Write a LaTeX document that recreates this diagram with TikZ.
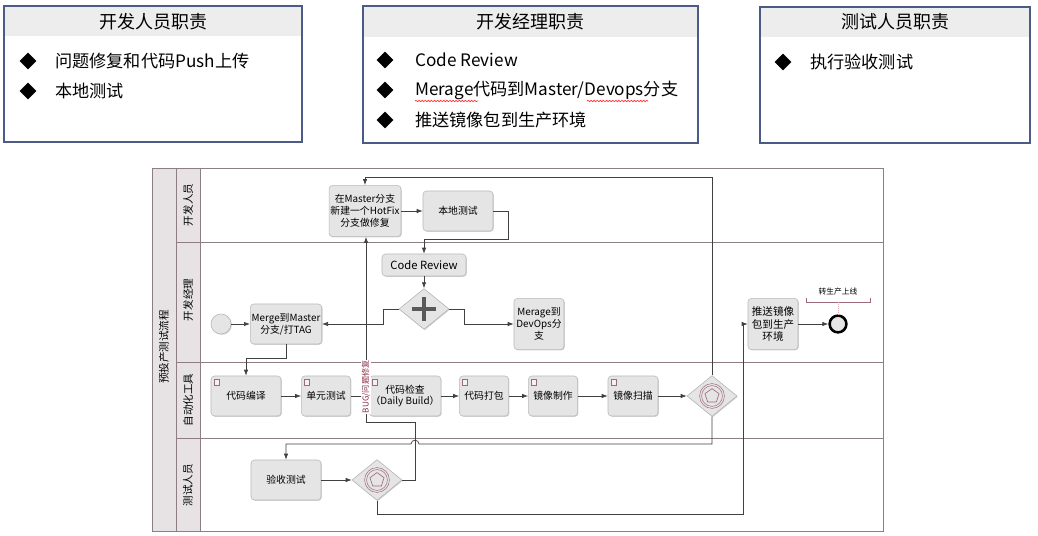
\documentclass[tikz,border=0pt]{standalone}
\usepackage{fontspec}
\setmainfont{Noto Sans CJK SC}
\usetikzlibrary{arrows.meta,shapes.geometric,shadows,decorations.pathmorphing}
\definecolor{dutyblue}{HTML}{4B5A87}
\definecolor{hdrgray}{HTML}{EDEDED}
\definecolor{lanemauve}{HTML}{8E7D84}
\definecolor{lanefill}{HTML}{E7E3E4}
\definecolor{taskgray}{HTML}{E6E5E5}
\definecolor{gatepink}{HTML}{9C6B7A}
\definecolor{bugred}{HTML}{8A3048}

\begin{document}
\begin{tikzpicture}[
            x=0.025cm, y=-0.025cm,
            duty/.style={draw=dutyblue, line width=1.6pt},
            dutytitle/.style={font=\fontsize{12.8}{14}\selectfont},
            dutyitem/.style={anchor=west, inner sep=0pt, font=\fontsize{12.2}{14}\selectfont},
            bulletmark/.style={diamond, fill=black, inner sep=0pt, minimum width=4.2mm, minimum height=4.2mm},
            lane/.style={draw=lanemauve, line width=0.6pt},
            lanetext/.style={rotate=90, font=\fontsize{7.5}{9}\selectfont},
            task/.style={draw=gray!55, fill=taskgray, rounded corners=2.5pt, align=center,
                inner sep=1pt, font=\fontsize{7}{8.5}\selectfont,
                minimum width=1.75cm, minimum height=1cm,
                drop shadow={shadow xshift=0.6pt, shadow yshift=-0.6pt, opacity=0.35}},
            gate/.style={diamond, draw=gray!60, fill=taskgray, inner sep=0pt,
                minimum width=1.25cm, minimum height=1.02cm,
                drop shadow={shadow xshift=0.6pt, shadow yshift=-0.6pt, opacity=0.35}},
            conn/.style={draw=black!75, line width=0.5pt, -{Latex[length=1.5mm,width=1.1mm]}},
            scripticon/.style={draw=gatepink, line width=0.3pt, fill=white!90!gatepink},
            spell/.style={draw=red!80, line width=0.5pt, decorate,
                decoration={snake, amplitude=0.5pt, segment length=2.2pt}}
            ]
            \useasboundingbox (0,0) rectangle (1038,536);

            % duty boxes
            \fill[hdrgray] (4,6) rectangle (302,36);
            \draw[duty] (4,6) rectangle (302,142);
            \node[dutytitle] (devtitle) at (153,22) {开发人员职责};
            \node[bulletmark] (devb1) at (28,61) {};
            \node[dutyitem] (devi1) at (55,61) {问题修复和代码Push上传};
            \node[bulletmark] (devb2) at (28,91) {};
            \node[dutyitem] (devi2) at (55,91) {本地测试};

            \fill[hdrgray] (363,6) rectangle (698,37);
            \draw[duty] (363,6) rectangle (698,143);
            \node[dutytitle] (mgrtitle) at (530,22) {开发经理职责};
            \node[bulletmark] (mgrb1) at (385,60) {};
            \node[dutyitem] (mgri1) at (415,60) {Code Review};
            \node[bulletmark] (mgrb2) at (385,90) {};
            \node[dutyitem] (mgri2) at (415,90) {Merage代码到Master/Devops分支};
            \node[bulletmark] (mgrb3) at (385,120) {};
            \node[dutyitem] (mgri3) at (415,120) {推送镜像包到生产环境};
            \draw[spell] (415,101) -- (478,101);
            \draw[spell] (587,101) -- (648,101);

            \fill[hdrgray] (760,7) rectangle (1030,37);
            \draw[duty] (760,7) rectangle (1030,143);
            \node[dutytitle] (testtitle) at (895,22) {测试人员职责};
            \node[bulletmark] (testb1) at (783,62) {};
            \node[dutyitem] (testi1) at (810,62) {执行验收测试};

            % pool and lanes
            \fill[lanefill] (152,168) rectangle (200,531);
            \draw[lane] (152,168) rectangle (883,531);
            \draw[lane] (176,168) -- (176,531);
            \draw[lane] (200,168) -- (200,531);
            \foreach \y in {242,362,438}
                \draw[lane] (176,\y) -- (883,\y);
            \node[lanetext] (pool) at (164,347) {预投产测试流程};
            \node[lanetext] (ldev) at (188,205) {开发人员};
            \node[lanetext] (lmgr) at (188,300) {开发经理};
            \node[lanetext] (ltool) at (188,400) {自动化工具};
            \node[lanetext] (ltest) at (188,485) {测试人员};

            % tasks
            \node[task, minimum height=1.28cm] (hotfix) at (365,211) {在Master分支\\新建一个HotFix\\分支做修复};
            \node[task] (local) at (458,211) {本地测试};
            \node[task, minimum width=2.1cm, minimum height=0.55cm, font=\fontsize{8}{9}\selectfont] (review) at (424,265) {Code Review};
            \node[gate] (gwp) at (424,309) {};
            \node[circle, draw=gray!60, fill=taskgray, minimum size=0.5cm, inner sep=0pt,
                drop shadow={shadow xshift=0.6pt, shadow yshift=-0.6pt, opacity=0.35}] (start) at (221,324) {};
            \node[task] (merge) at (286,324) {Merge到Master\\分支/打TAG};
            \node[task, minimum width=1.25cm, minimum height=1.28cm] (devops) at (539,324) {Merage到\\DevOps分\\支};
            \node[task, minimum width=1.25cm, minimum height=1.28cm, font=\fontsize{7.5}{9}\selectfont] (push) at (773,324) {推送镜像\\包到生产\\环境};
            \node[circle, draw=black, line width=1.8pt, fill=taskgray, minimum size=0.42cm, inner sep=0pt] (endev) at (838,324) {};
            \node[font=\fontsize{5.5}{7}\selectfont] (golive) at (838,292) {转生产上线};
            \draw[gatepink, line width=0.5pt] (806,298) -- (806,302) -- (870,302) -- (870,298);
            \draw[pink!80!gray, densely dotted] (838,302) -- (endev.north);

            \node[task] (compile) at (246,396) {代码编译};
            \node[task, minimum width=1.23cm] (unit) at (326,396) {单元测试};
            \node[task] (check) at (405,396) {代码检查\\（Daily Build）};
            \node[task, minimum width=1.23cm] (pack) at (484,396) {代码打包};
            \node[task, minimum width=1.23cm] (image) at (553,396) {镜像制作};
            \node[task, minimum width=1.25cm] (scan) at (633,396) {镜像扫描};
            \node[gate] (gwe) at (712,396) {};
            \foreach \n in {compile,unit,check,pack,image,scan}
                \draw[scripticon] ([shift={(3,3)}]\n.north west) rectangle ++(5,6);

            \node[task] (accept) at (286,480) {验收测试};
            \node[gate] (gwt) at (377,480) {};

            % gateway marks
            \draw[line width=2.8pt, black!65] (gwp.center) ++(-12,0) -- ++(24,0);
            \draw[line width=2.8pt, black!65] (gwp.center) ++(0,-12) -- ++(0,24);
            \foreach \g in {gwe,gwt} {
                \draw[gatepink, line width=0.35pt] (\g.center) circle (3.1mm) circle (2.6mm);
                \node[regular polygon, regular polygon sides=5, draw=gatepink, line width=0.45pt,
                    minimum size=3.7mm, inner sep=0pt] (\g-pent) at (\g.center) {};
            }

            % flows
            \draw[conn] (start) -- (merge);
            \draw[conn] (gwp.west) -- ++(-15,0) |- (merge.east);
            \draw[conn] (gwp.east) -- ++(15,0) |- (devops.west);
            \draw[conn] (review) -- (gwp);
            \draw[conn] (local.east) -- ++(15,0) -- ++(0,28) -| (review.north);
            \draw[conn] (hotfix) -- (local);
            \draw[conn] (merge.south) -- ++(0,14) -| (compile.north);
            \foreach \a/\b in {compile/unit,unit/check,check/pack,pack/image,image/scan,scan/gwe}
                \draw[conn] (\a) -- (\b);
            \draw[conn] (gwe.north) -- ++(0,-197.5) -| (hotfix.north);
            \draw[conn] (gwe.south) |- (419,444) .. controls (419,439) and (411,439) .. (411,444) -| (accept.north);
            \draw[conn] (accept) -- (gwt);
            \draw[conn] (gwt.east) -- ++(13,0) |- (366,422) -- node[pos=0.19, rotate=90, fill=white, inner sep=0.5pt,
                text=bugred, font=\fontsize{5.8}{7}\selectfont] (buglbl) {BUG/问题修复} (hotfix.south -| 366,0);
            \draw[conn] (gwt.south) -- ++(0,14) -- ++(366,0) |- (push.west);
            \draw[conn] (push) -- (endev);
        \end{tikzpicture}
\end{document}
